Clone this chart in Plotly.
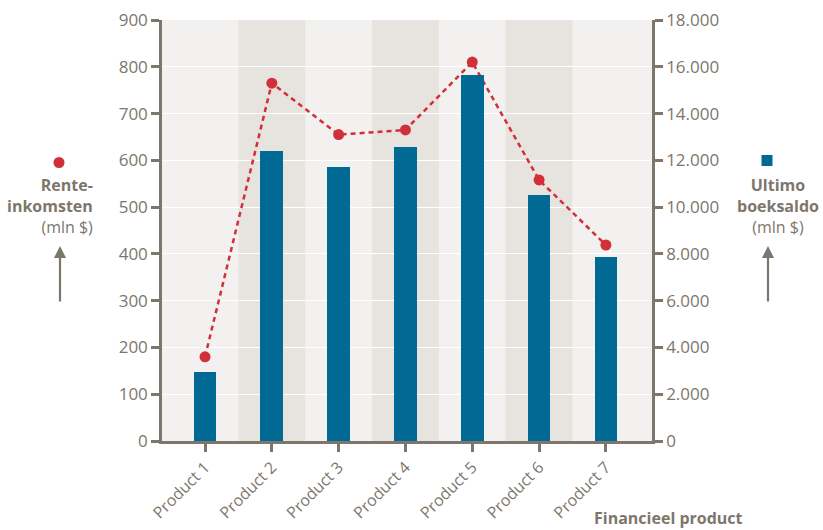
import plotly.graph_objects as go

# Data
products = ["Product 1", "Product 2", "Product 3", "Product 4", "Product 5", "Product 6", "Product 7"]
rente_inkomsten = [180, 765, 655, 665, 810, 558, 419]          # left axis, mln $
ultimo_boeksaldo = [2950, 12400, 11700, 12570, 15650, 10520, 7870]  # right axis, mln $
left_ticks = [0, 100, 200, 300, 400, 500, 600, 700, 800, 900]
right_ticks = [0, 2000, 4000, 6000, 8000, 10000, 12000, 14000, 16000, 18000]
right_tick_text = ["0", "2.000", "4.000", "6.000", "8.000", "10.000", "12.000", "14.000", "16.000", "18.000"]

GREY = "#7d766c"
BLUE = "#006994"
RED = "#d12f3a"
LIGHT = "#f2f1ef"
DARK = "#e7e4df"
FONT = "Open Sans"

W, H = 823, 530
PL, PR, PT, PB = 162, 652, 20, 441  # plot area in pixels


def px(x):
    return (x - PL) / (PR - PL)


def py(y):
    return (PB - y) / (PB - PT)


xpos = list(range(len(products)))

fig = go.Figure()

fig.add_trace(go.Bar(
    x=xpos, y=ultimo_boeksaldo, yaxis="y2",
    marker=dict(color=BLUE, line=dict(width=0)),
    width=0.34, showlegend=False, hoverinfo="skip",
))

fig.add_trace(go.Scatter(
    x=xpos, y=rente_inkomsten, yaxis="y",
    mode="lines+markers",
    line=dict(color=RED, width=2.5, dash="5px,4px"),
    marker=dict(color=RED, size=11),
    showlegend=False, hoverinfo="skip",
))

# alternating column bands
shapes = []
for i in range(1, len(products), 2):
    shapes.append(dict(
        type="rect", xref="x", yref="paper",
        x0=i - 0.5, x1=i + 0.5, y0=0, y1=1,
        fillcolor=DARK, line=dict(width=0), layer="below",
    ))

# legend keys next to the axis titles
shapes.append(dict(
    type="circle", xref="paper", yref="paper", xsizemode="pixel", ysizemode="pixel",
    xanchor=px(59), yanchor=py(162.5), x0=-5.5, x1=5.5, y0=-5.5, y1=5.5,
    fillcolor=RED, line=dict(width=0),
))
shapes.append(dict(
    type="rect", xref="paper", yref="paper", xsizemode="pixel", ysizemode="pixel",
    xanchor=px(767), yanchor=py(160.5), x0=-5.5, x1=5.5, y0=-5.5, y1=5.5,
    fillcolor=BLUE, line=dict(width=0),
))

# axis-title arrows
annotations = []
for ax_x in (60, 768):
    annotations.append(dict(
        xref="paper", yref="paper", axref="pixel", ayref="pixel",
        x=px(ax_x), y=py(246), ax=0, ay=57,
        showarrow=True, arrowhead=2, arrowsize=1.1, arrowwidth=2.2,
        arrowcolor=GREY, text="",
    ))

annotations += [
    dict(xref="paper", yref="paper", x=px(95), y=py(206), xanchor="right", yanchor="middle",
         text="<b>Rente-</b><br><b>inkomsten</b><br>(mln $)", align="right", showarrow=False,
         font=dict(family=FONT, size=16, color=GREY)),
    dict(xref="paper", yref="paper", x=px(778), y=py(206), xanchor="center", yanchor="middle",
         text="<b>Ultimo</b><br><b>boeksaldo</b><br>(mln $)", align="center", showarrow=False,
         font=dict(family=FONT, size=16, color=GREY)),
    dict(xref="paper", yref="paper", x=px(668), y=py(518), xanchor="center", yanchor="middle",
         text="<b>Financieel product</b>", showarrow=False,
         font=dict(family=FONT, size=16, color=GREY)),
]

axis_style = dict(
    showline=True, linecolor=GREY, linewidth=2.5, zeroline=False,
    ticks="outside", ticklen=8, tickwidth=2.5, tickcolor=GREY,
    automargin=False,
)

fig.update_layout(
    width=W, height=H,
    margin=dict(l=PL, r=W - PR, t=PT, b=H - PB, pad=0, autoexpand=False),
    paper_bgcolor="white", plot_bgcolor=LIGHT,
    font=dict(family=FONT, size=15, color=GREY),
    shapes=shapes, annotations=annotations,
    bargap=0,
    xaxis=dict(
        range=[-0.644, 6.69], tickmode="array", tickvals=xpos, ticktext=products,
        tickangle=-45, showgrid=False,
        tickfont=dict(family=FONT, size=16, color=GREY),
        **axis_style,
    ),
    yaxis=dict(
        range=[0, 900], tickmode="array", tickvals=left_ticks,
        showgrid=True, gridcolor="white", gridwidth=1.2,
        tickfont=dict(family=FONT, size=17, color=GREY),
        **axis_style,
    ),
    yaxis2=dict(
        range=[0, 18000], overlaying="y", side="right",
        tickmode="array", tickvals=right_ticks, ticktext=right_tick_text,
        showgrid=False,
        tickfont=dict(family=FONT, size=17, color=GREY),
        **axis_style,
    ),
)

fig.write_html("out.html")
